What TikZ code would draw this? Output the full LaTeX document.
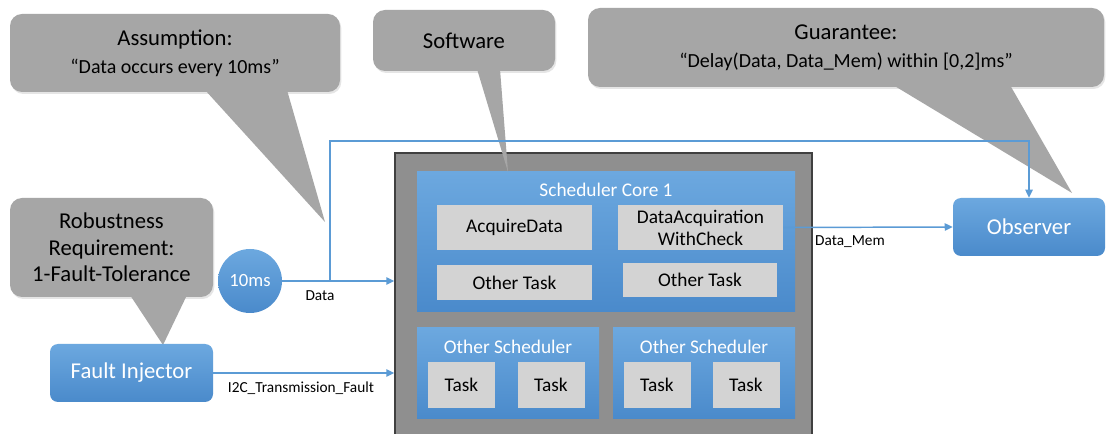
\documentclass[tikz,border=0pt]{standalone}
\usepackage{fontspec}
\setmainfont{Carlito}
\usetikzlibrary{arrows.meta,calc,positioning,shadows}

\definecolor{officeblue}{HTML}{5B9BD5}
\definecolor{bluetop}{HTML}{6CA8DF}
\definecolor{bluebot}{HTML}{4A8ACB}
\definecolor{notegray}{HTML}{A6A6A6}
\definecolor{taskgray}{HTML}{D3D3D3}
\definecolor{ecugray}{HTML}{8F8F8F}

\begin{document}
\begin{tikzpicture}[x=0.75pt,y=-0.75pt,
  note/.style={fill=notegray,rounded corners=9pt,inner sep=0pt,align=center,font=\fontsize{17}{20}\selectfont,
    drop shadow={opacity=0.2,shadow xshift=1pt,shadow yshift=-1.5pt}},
  bluebox/.style={top color=bluetop,bottom color=bluebot,rounded corners=6pt,inner sep=0pt,text=white,font=\fontsize{17}{20}\selectfont},
  sched/.style={top color=bluetop,bottom color=bluebot,inner sep=0pt},
  head/.style={text=white,inner sep=0pt,font=\fontsize{14.5}{17}\selectfont},
  task/.style={fill=taskgray,inner sep=0pt,align=center,font=\fontsize{14.5}{16.5}\selectfont},
  flow/.style={draw=officeblue,line width=1.1pt,-{Triangle[length=6pt,width=5.5pt]}},
  sig/.style={inner sep=0pt,font=\fontsize{11.5}{13}\selectfont}]
  \useasboundingbox[fill=white] (0,0) rectangle (1110,434);

  % callouts
  \node[note,minimum width=247.5pt,minimum height=58.5pt] (assume) at (175,53)
    {Assumption:\\[1pt]\fontsize{15}{18}\selectfont “Data occurs every 10ms”};
  \node[note,minimum width=136.5pt,minimum height=45.75pt] (software) at (464,40.5) {Software};
  \node[note,minimum width=387pt,minimum height=59.25pt] (guarantee) at (846,47.5)
    {Guarantee:\\[1pt]\fontsize{15}{18}\selectfont “Delay(Data, Data\_Mem) within [0,2]ms”};
  \node[note,minimum width=152.25pt,minimum height=74.25pt] (robust) at (111.5,247.5)
    {Robustness\\Requirement:\\1-Fault-Tolerance};

  % hardware box
  \node[fill=ecugray,draw=black!75,line width=1pt,minimum width=312.75pt,minimum height=217.5pt] (ecu) at (603.5,298) {};
  \node[sched,minimum width=283.5pt,minimum height=105pt] (core) at (606,242) {};
  \node[head] at ([yshift=-13.5pt]core.north) {Scheduler Core 1};
  \node[task,minimum width=116.25pt,minimum height=33.75pt] (acquire) at (514.5,227.5) {AcquireData};
  \node[task,minimum width=123.75pt,minimum height=33.75pt] (acqcheck) at (700.5,227.5) {DataAcquiration\\WithCheck};
  \node[task,minimum width=116.25pt,minimum height=26.25pt] (otherl) at (514.5,282.5) {Other Task};
  \node[task,minimum width=115.5pt,minimum height=25.5pt] (otherr) at (700,280) {Other Task};
  \foreach \n/\x in {schedl/508,schedr/704}{
    \node[sched,minimum width=136.5pt,minimum height=68.25pt] (\n) at (\x,373.5) {};
    \node[head] at ([yshift=-14.25pt]\n.north) {Other Scheduler};
  }
  \foreach \n/\x in {tl1/461.5,tl2/551,tr1/657,tr2/746}{
    \node[task,minimum width=50.25pt,minimum height=34.5pt] (\n) at (\x,385) {Task};
  }

  % pointers of the callouts
  \fill[notegray] (205,90) -- (325,222) -- (287,90) -- cycle;
  \fill[notegray] (477,69) -- (508,172) -- (500,69) -- cycle;
  \fill[notegray] (893,85) -- (1072,193) -- (1010,85) -- cycle;
  \fill[notegray] (130,295) -- (163,345) -- (187,295) -- cycle;

  % sources and observer
  \node[circle,top color=bluetop,bottom color=bluebot,minimum size=48pt,inner sep=0pt,text=white,
    font=\fontsize{14}{16}\selectfont] (tenms) at (250,281) {10ms};
  \node[bluebox,minimum width=122.25pt,minimum height=43.5pt] (fault) at (131.5,373) {Fault Injector};
  \node[bluebox,minimum width=114pt,minimum height=43.5pt] (observer) at (1029,227) {Observer};

  % signals
  \coordinate (split) at (330,281);
  \coordinate (overtop) at (330,141);
  \draw[flow] (tenms.east) -- (tenms.east -| ecu.west);
  \draw[flow] (split) -- (overtop) -| (observer.north);
  \draw[flow] (fault.east) -- (fault.east -| ecu.west);
  \draw[flow] (acqcheck.east) -- (observer.west);
  \node[sig] at (320,296) {Data};
  \node[sig] at (301,388) {I2C\_Transmission\_Fault};
  \node[sig] at (850,242) {Data\_Mem};
\end{tikzpicture}
\end{document}
